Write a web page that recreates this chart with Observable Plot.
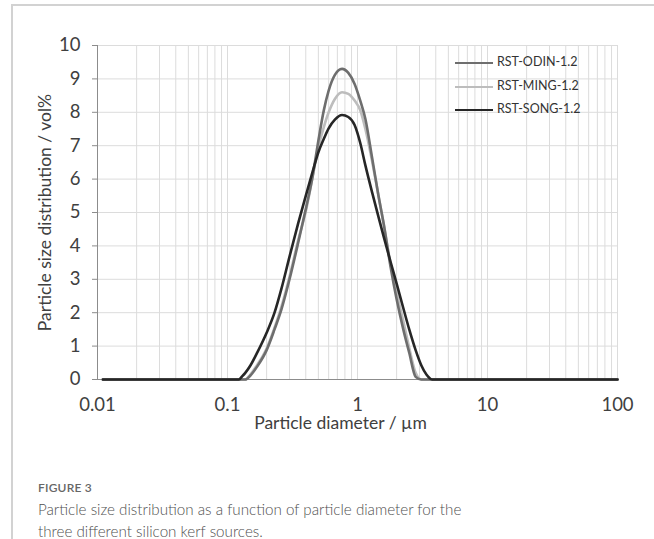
<!DOCTYPE html>
<html>
<head>
<meta charset="utf-8">
<script src="https://cdn.jsdelivr.net/npm/d3@7"></script>
<script src="https://cdn.jsdelivr.net/npm/@observablehq/plot@0.6"></script>
<style>
  html, body { margin: 0; padding: 0; background: #fff; width: 654px; height: 539px; overflow: hidden; }
  #frame { position: absolute; left: 11px; top: 4px; width: 643px; height: 540px;
           border-top: 2px solid #d2d2d2; border-left: 2px solid #d2d2d2; box-sizing: border-box; }
  #chart { position: absolute; left: 0; top: 0; }
  .leg { position: absolute; font-family: Lato, sans-serif; font-size: 12.5px; color: #333; white-space: nowrap; }
  .leg .sw { position: absolute; left: 0; width: 38px; height: 0; }
  .leg .tx { position: absolute; left: 42px; top: -9px; }
  #fig { position: absolute; left: 38px; top: 480px; font-family: Lato, sans-serif; font-size: 12px; font-weight: 600; color: #666; letter-spacing: 0.2px; }
  #cap { position: absolute; left: 38px; top: 498px; font-family: Lato, sans-serif; font-size: 15.2px; font-weight: 300; color: #505050; line-height: 22px; }
</style>
</head>
<body>
<div id="frame"></div>
<div id="chart"></div>
<div id="legend"></div>
<div id="fig">FIGURE 3</div>
<div id="cap">Particle size distribution as a function of particle diameter for the<br>three different silicon kerf sources.</div>
<script>
// Particle diameter (µm) sample points
const diameter = [0.011, 0.05, 0.1, 0.115, 0.122, 0.13, 0.137, 0.15, 0.17, 0.2, 0.23, 0.26, 0.3, 0.35, 0.4, 0.45, 0.5, 0.55, 0.6, 0.67, 0.76, 0.85, 0.95, 1.05, 1.15, 1.3, 1.45, 1.6, 1.8, 2.0, 2.25, 2.5, 2.8, 3.1, 3.4, 3.75, 4.2, 10, 50, 100];

const odin = [0, 0, 0, 0, 0, 0, 0, 0.12, 0.4, 0.88, 1.5, 2.1, 3.0, 4.1, 5.1, 6.05, 7.15, 8.05, 8.65, 9.12, 9.3, 9.18, 8.85, 8.35, 7.8, 6.6, 5.5, 4.6, 3.35, 2.4, 1.5, 0.8, 0.08, 0, 0, 0, 0, 0, 0, 0];
const ming = [0, 0, 0, 0, 0, 0, 0, 0.15, 0.45, 0.93, 1.55, 2.18, 3.08, 4.18, 5.03, 6.03, 6.95, 7.55, 8.0, 8.4, 8.6, 8.55, 8.35, 8.06, 7.5, 6.5, 5.5, 4.6, 3.45, 2.6, 1.75, 0.95, 0.2, 0, 0, 0, 0, 0, 0, 0];
const song = [0, 0, 0, 0, 0, 0.1, 0.2, 0.42, 0.82, 1.4, 2.0, 2.72, 3.68, 4.68, 5.5, 6.2, 6.8, 7.2, 7.52, 7.78, 7.92, 7.86, 7.62, 7.08, 6.41, 5.58, 4.87, 4.24, 3.51, 2.87, 2.14, 1.5, 0.88, 0.42, 0.14, 0, 0, 0, 0, 0];

const seriesNames = ["RST-ODIN-1.2", "RST-MING-1.2", "RST-SONG-1.2"];
const seriesColors = ["#6e6e6e", "#bdbdbd", "#262626"];

const xTickLabels = [0.01, 0.1, 1, 10, 100];
const xGridTicks = [0.01,0.02,0.03,0.04,0.05,0.06,0.07,0.08,0.09,
                    0.1,0.2,0.3,0.4,0.5,0.6,0.7,0.8,0.9,
                    1,2,3,4,5,6,7,8,9,
                    10,20,30,40,50,60,70,80,90,100];
const yTicks = [0,1,2,3,4,5,6,7,8,9,10];
const xTitle = "Particle diameter / µm";
const yTitle = "Particle size distribution / vol%";

const values = [odin, ming, song];
const rows = [];
// draw order: MING, ODIN, SONG
[1, 0, 2].forEach(si => {
  diameter.forEach((d, i) => rows.push({series: seriesNames[si], d, v: values[si][i]}));
});

const chart = Plot.plot({
  width: 654,
  height: 440,
  marginLeft: 97,
  marginRight: 37,
  marginTop: 45,
  marginBottom: 61,
  style: { fontFamily: "Lato, sans-serif", fontSize: "18.5px", color: "#404040", background: "transparent" },
  x: { type: "log", domain: [0.01, 100] },
  y: { domain: [0, 10] },
  color: { domain: seriesNames, range: seriesColors },
  marks: [
    Plot.gridX(xGridTicks, { stroke: "#dcdcdc", strokeOpacity: 1, strokeWidth: 1 }),
    Plot.gridY(yTicks, { stroke: "#dcdcdc", strokeOpacity: 1, strokeWidth: 1 }),
    Plot.axisY(yTicks, { tickSize: 5, tickPadding: 12, stroke: "#8c8c8c", fontSize: 18.5, label: null }),
    Plot.ruleX([0.01], { stroke: "#8c8c8c" }),
    Plot.ruleY([0], { stroke: "#8c8c8c" }),
    Plot.axisX(xTickLabels, { tickSize: 0, tickPadding: 18, fontSize: 18.5, tickFormat: d => String(d), label: null }),
    Plot.text([xTitle], { frameAnchor: "bottom", text: d => d, lineAnchor: "middle", textAnchor: "middle", dy: 44, dx: -17, fontSize: 17.5, fill: "#404040" }),
    Plot.text([yTitle], { frameAnchor: "left", text: d => d, rotate: -90, lineAnchor: "middle", textAnchor: "middle", dx: -52, fontSize: 17.5, fill: "#404040" }),
    Plot.line(rows, { x: "d", y: "v", z: "series", stroke: "series", curve: "monotone-x", strokeWidth: 2.6 })
  ]
});
document.getElementById("chart").appendChild(chart);

// Legend (inside plot, top right)
const legend = document.getElementById("legend");
const legTop = [63, 87, 110];
seriesNames.forEach((name, i) => {
  const item = document.createElement("div");
  item.className = "leg";
  item.style.left = "455px";
  item.style.top = legTop[i] + "px";
  const sw = document.createElement("div");
  sw.className = "sw";
  sw.style.borderTop = "2.6px solid " + seriesColors[i];
  sw.style.top = "-1px";
  const tx = document.createElement("div");
  tx.className = "tx";
  tx.textContent = name;
  item.appendChild(sw);
  item.appendChild(tx);
  legend.appendChild(item);
});
</script>
</body>
</html>
